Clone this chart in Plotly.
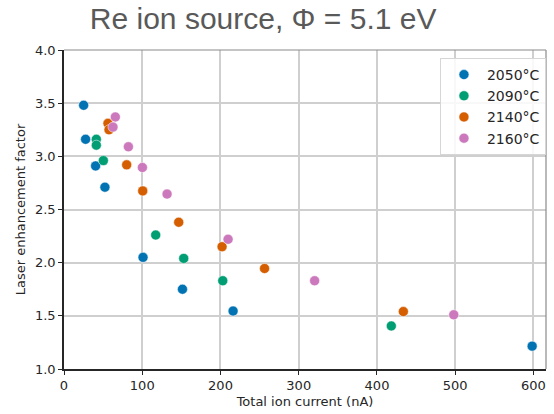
import plotly.graph_objects as go

labels = ["2050°C", "2090°C", "2140°C", "2160°C"]
colors = ["#0173B2", "#029E73", "#D55E00", "#CC78BC"]

x_2050 = [25.1, 27.6, 40.4, 52.3, 101.0, 151.4, 216.1, 598.3]
y_2050 = [3.48, 3.16, 2.91, 2.71, 2.05, 1.75, 1.545, 1.215]

x_2090 = [41.3, 41.3, 50.3, 117.2, 153.0, 202.9, 418.3]
y_2090 = [3.16, 3.105, 2.96, 2.26, 2.04, 1.83, 1.405]

x_2140 = [56.2, 57.5, 80.1, 100.6, 146.6, 202.0, 256.3, 433.7]
y_2140 = [3.31, 3.25, 2.92, 2.675, 2.38, 2.15, 1.945, 1.54]

x_2160 = [65.6, 62.6, 82.3, 100.2, 131.7, 209.7, 320.3, 498.1]
y_2160 = [3.37, 3.275, 3.09, 2.895, 2.645, 2.22, 1.83, 1.51]

xs = [x_2050, x_2090, x_2140, x_2160]
ys = [y_2050, y_2090, y_2140, y_2160]

x_ticks = [0, 100, 200, 300, 400, 500, 600]
y_ticks = [1.0, 1.5, 2.0, 2.5, 3.0, 3.5, 4.0]

fig = go.Figure()
for lab, col, xv, yv in zip(labels, colors, xs, ys):
    fig.add_trace(go.Scatter(
        x=xv, y=yv, mode="markers", name=lab,
        marker=dict(color=col, size=10, line=dict(width=0.5, color="white")),
    ))

tickfont = dict(family="DejaVu Sans", size=13, color="#262626")
fig.update_layout(
    width=554, height=414,
    margin=dict(l=64, r=8, t=50, b=45),
    paper_bgcolor="white", plot_bgcolor="white",
    title=dict(text="Re ion source, Φ = 5.1 eV", x=0.475, xanchor="center",
               y=0.955, yanchor="middle",
               font=dict(family="Liberation Sans", size=30, color="#595959")),
    font=dict(family="DejaVu Sans", color="#262626"),
    legend=dict(x=0.78, y=0.975, xanchor="left", yanchor="top",
                bgcolor="rgba(255,255,255,0.85)", bordercolor="#d6d6d6", borderwidth=1,
                font=dict(family="DejaVu Sans", size=14, color="#262626"),
                itemwidth=36),
    showlegend=True,
)
fig.update_xaxes(range=[0, 616], tickvals=x_ticks, ticktext=[str(v) for v in x_ticks],
                 showgrid=True, gridcolor="#cfcfcf", gridwidth=1.5,
                 showline=True, linecolor="#262626", linewidth=1.5,
                 ticks="outside", ticklen=4, tickcolor="#262626", tickfont=tickfont,
                 zeroline=False,
                 title=dict(text="Total ion current (nA)", font=dict(family="DejaVu Sans", size=13, color="#262626"), standoff=5))
fig.update_yaxes(range=[1, 4], tickvals=y_ticks, ticktext=[f"{v:.1f}" for v in y_ticks],
                 showgrid=True, gridcolor="#cfcfcf", gridwidth=1.5,
                 showline=True, linecolor="#262626", linewidth=1.5,
                 ticks="outside", ticklen=4, tickcolor="#262626", tickfont=tickfont,
                 zeroline=False,
                 title=dict(text="Laser enhancement factor", font=dict(family="DejaVu Sans", size=13, color="#262626"), standoff=6))
fig.add_shape(type="line", xref="paper", yref="paper", x0=0, x1=1, y0=1, y1=1,
              line=dict(color="#8a8a8a", width=1.2))
fig.add_shape(type="line", xref="paper", yref="paper", x0=1, x1=1, y0=0, y1=1,
              line=dict(color="#8a8a8a", width=1.2))

fig.write_html("out.html")
